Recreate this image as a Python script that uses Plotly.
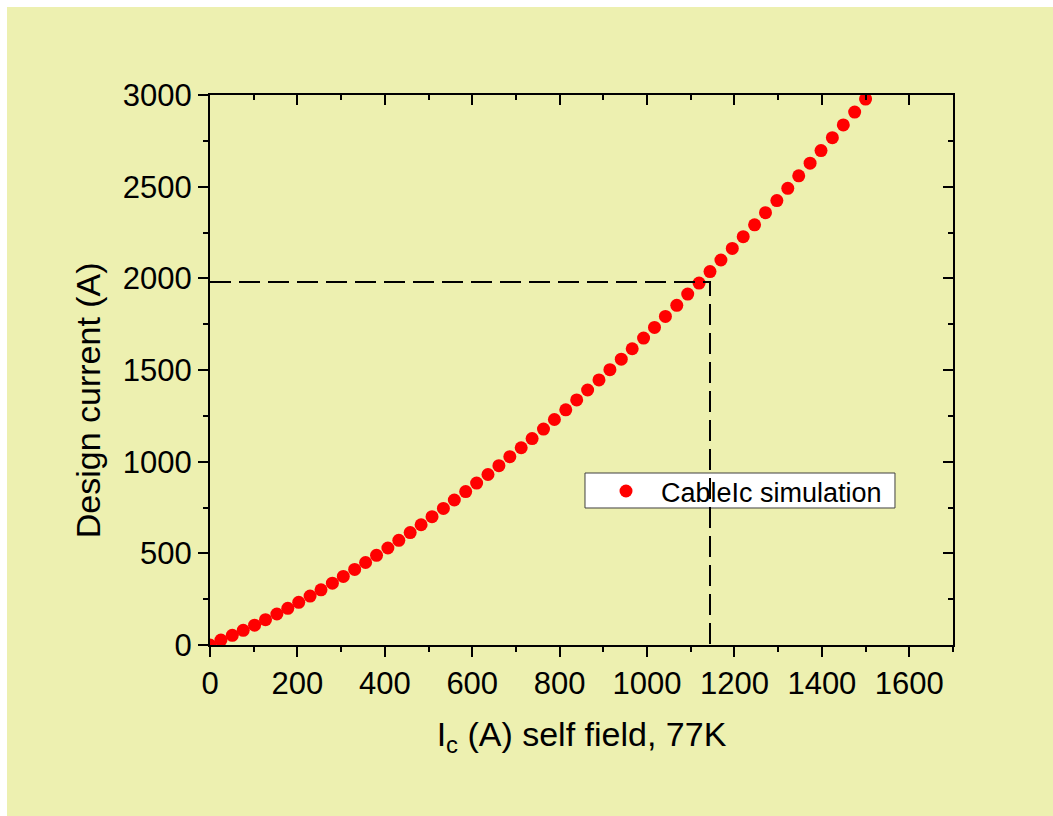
import plotly.graph_objects as go

# Design current vs. tape critical current (self field, 77 K)
ic_values = [0, 25, 51, 76, 102, 127, 153, 178, 203, 229, 254, 280, 305, 331, 356,
             381, 407, 432, 458, 483, 508, 534, 559, 585, 610, 636, 661, 686, 712, 737,
             763, 788, 814, 839, 864, 890, 915, 941, 966, 992, 1017, 1042, 1068, 1093, 1119,
             1144, 1169, 1195, 1220, 1246, 1271, 1297, 1322, 1347, 1373, 1398, 1424, 1449, 1475, 1500]
design_current = [0, 27, 53, 80, 108, 138, 169, 200, 233, 267, 301, 337, 374, 412, 450,
                  489, 529, 571, 613, 656, 700, 745, 791, 837, 883, 930, 978, 1027, 1076, 1126,
                  1178, 1230, 1283, 1337, 1391, 1446, 1502, 1559, 1616, 1674, 1732, 1792, 1853, 1914, 1974,
                  2037, 2100, 2163, 2227, 2292, 2358, 2424, 2491, 2559, 2628, 2697, 2767, 2837, 2907, 2978]

# Operating point marked by the dashed guide lines
guide_ic = 1144
guide_current = 1980

x_range = [0, 1700]
y_range = [0, 3000]

BG = "rgb(237,240,176)"
FONT = "Liberation Sans, Arial, sans-serif"

fig = go.Figure()

fig.add_trace(go.Scatter(
    x=ic_values, y=design_current, mode="markers", name="CableIc simulation",
    marker=dict(color="#ff0000", size=13, line=dict(width=0)),
))

fig.add_trace(go.Scatter(
    x=[0, guide_ic, guide_ic], y=[guide_current, guide_current, 0],
    mode="lines", showlegend=False, hoverinfo="skip",
    line=dict(color="black", width=2, dash="21px,8px"),
))

# mirror axes (top / right) carrying inward ticks
fig.add_trace(go.Scatter(x=[], y=[], xaxis="x2", yaxis="y2", showlegend=False))

axis_common = dict(
    showline=True, linecolor="black", linewidth=2, showgrid=False, zeroline=False,
    tickcolor="black", tickwidth=2, ticklen=10, automargin=False,
    tickfont=dict(family=FONT, size=31, color="black"),
)

fig.update_layout(
    width=1053, height=816,
    margin=dict(l=210, r=100, t=95, b=171, pad=0),
    paper_bgcolor=BG, plot_bgcolor=BG,
    font=dict(family=FONT, color="black"),
    xaxis=dict(range=x_range, dtick=200, ticks="outside",
               minor=dict(dtick=100, ticklen=5, tickwidth=2, tickcolor="black", ticks="outside"),
               title=dict(text="I<sub>c</sub> (A) self field, 77K",
                          font=dict(family=FONT, size=34, color="black"), standoff=22),
               **axis_common),
    yaxis=dict(range=y_range, dtick=500, ticks="outside",
               minor=dict(dtick=250, ticklen=5, tickwidth=2, tickcolor="black", ticks="outside"),
               **axis_common),
    xaxis2=dict(range=x_range, dtick=200, ticks="inside", overlaying="x", side="top",
                anchor="y2", showticklabels=False,
                minor=dict(dtick=100, ticklen=5, tickwidth=2, tickcolor="black", ticks="inside"),
                **axis_common),
    yaxis2=dict(range=y_range, dtick=500, ticks="inside", overlaying="y", side="right",
                anchor="x2", showticklabels=False,
                minor=dict(dtick=250, ticklen=5, tickwidth=2, tickcolor="black", ticks="inside"),
                **axis_common),
    legend=dict(x=0.5128, y=0.3237, xanchor="left", yanchor="top",
                bgcolor="rgba(0,0,0,0)", borderwidth=0,
                font=dict(family=FONT, size=27, color="black"),
                itemwidth=60),
    annotations=[
        dict(text="Design current (A)", textangle=-90, xref="paper", yref="paper",
             x=-0.1642, y=0.445, xanchor="center", yanchor="middle", showarrow=False,
             font=dict(family=FONT, size=34, color="black")),
    ],
    shapes=[
        # white page edge on the left and top
        dict(type="rect", xref="paper", yref="paper", x0=-0.2826, x1=-0.2732, y0=-0.32, y1=1.18,
             fillcolor="white", line=dict(width=0), layer="below"),
        dict(type="rect", xref="paper", yref="paper", x0=-0.29, x1=1.14, y0=1.1600, y1=1.18,
             fillcolor="white", line=dict(width=0), layer="below"),
        # legend box
        dict(type="rect", xref="paper", yref="paper", x0=0.5047, x1=0.9219, y0=0.2491, y1=0.3127,
             fillcolor="white", line=dict(color="#404040", width=1), layer="below"),
    ],
)

fig.write_html("out.html")
